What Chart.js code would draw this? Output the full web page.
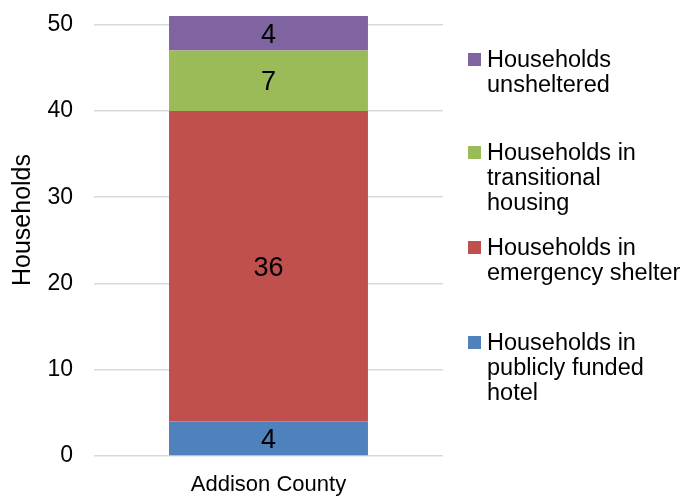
<!DOCTYPE html>
<html>
<head>
<meta charset="utf-8">
<script src="https://cdn.jsdelivr.net/npm/chart.js@4/dist/chart.umd.min.js"></script>
<style>
  html, body { margin: 0; padding: 0; background: #fff; }
  #wrap { position: relative; width: 698px; height: 496px; }
  #chart { position: absolute; left: 0; top: 0; }
  .legend-item { position: absolute; left: 468px; font-family: 'Liberation Sans', Arial, sans-serif; font-size: 23.5px; line-height: 25px; color: #000; }
  .legend-item .box { position: absolute; left: 0; top: 6px; width: 13px; height: 13px; }
  .legend-item .text { position: absolute; left: 19px; top: 0; white-space: nowrap; }
</style>
</head>
<body>
<div id="wrap">
  <canvas id="chart" width="698" height="496"></canvas>
</div>
<script>
// Households by shelter type, stacked bottom to top
const categories = ['Addison County'];
const hotel = [4];
const emergency = [36];
const transitional = [7];
const unsheltered = [4];
const yTicks = [0, 10, 20, 30, 40, 50];

const seriesNames = [
    ['Households in', 'publicly funded', 'hotel'],
    ['Households in', 'emergency shelter'],
    ['Households in', 'transitional', 'housing'],
    ['Households', 'unsheltered']
];
const seriesColors = ['#4F81BD', '#C0504D', '#9BBB59', '#8064A2'];
const seriesData = [hotel, emergency, transitional, unsheltered];

const font = "'Liberation Sans', Arial, sans-serif";

// value labels centred in each segment
const segmentLabels = {
    id: 'segmentLabels',
    afterDatasetsDraw(chart) {
        const ctx = chart.ctx;
        ctx.save();
        ctx.font = '27px ' + font;
        ctx.fillStyle = '#000';
        ctx.textAlign = 'center';
        ctx.textBaseline = 'middle';
        chart.data.datasets.forEach((ds, i) => {
            chart.getDatasetMeta(i).data.forEach((bar, j) => {
                const { x, y, base } = bar.getProps(['x', 'y', 'base'], true);
                ctx.fillText(String(ds.data[j]), x, (y + base) / 2 + 2);
            });
        });
        ctx.restore();
    }
};

// rotated y axis title, sitting a little above the middle of the plot
const axisTitle = {
    id: 'axisTitle',
    afterDraw(chart) {
        const ctx = chart.ctx;
        const { top, bottom } = chart.chartArea;
        ctx.save();
        ctx.translate(23, (top + bottom) / 2 - 16);
        ctx.rotate(-Math.PI / 2);
        ctx.font = '25px ' + font;
        ctx.fillStyle = '#000';
        ctx.textAlign = 'center';
        ctx.textBaseline = 'middle';
        ctx.fillText('Households', 0, 0);
        ctx.restore();
    }
};

new Chart(document.getElementById('chart'), {
    type: 'bar',
    data: {
        labels: categories,
        datasets: seriesData.map((d, i) => ({
            label: seriesNames[i].join(' '),
            data: d,
            backgroundColor: seriesColors[i],
            borderWidth: 0,
            barPercentage: 1,
            categoryPercentage: 0.57
        }))
    },
    options: {
        responsive: false,
        animation: false,
        layout: { padding: { top: 16, right: 255, bottom: 0, left: 0 } },
        plugins: {
            legend: { display: false },
            tooltip: { enabled: false }
        },
        scales: {
            x: {
                stacked: true,
                grid: { display: false, drawTicks: false },
                border: { display: false },
                ticks: { color: '#000', font: { family: font, size: 22 }, padding: 16 },
                afterFit: s => { s.height = 40; }
            },
            y: {
                stacked: true,
                min: 0,
                max: 51,
                afterBuildTicks: s => { s.ticks = yTicks.map(v => ({ value: v })); },
                grid: { color: '#D9D9D9', lineWidth: 1.5, drawTicks: false },
                border: { display: false },
                ticks: { color: '#000', font: { family: font, size: 23 }, padding: 21 },
                afterFit: s => {
                    s.width = 94;
                    s.paddingTop = 0;
                    s.paddingBottom = 0;
                }
            }
        }
    },
    plugins: [segmentLabels, axisTitle]
});

// legend, top entry first
const wrap = document.getElementById('wrap');
const legendTops = [330, 235, 140, 47];
seriesNames.forEach((lines, i) => {
    const item = document.createElement('div');
    item.className = 'legend-item';
    item.style.top = legendTops[i] + 'px';
    const box = document.createElement('div');
    box.className = 'box';
    box.style.background = seriesColors[i];
    const text = document.createElement('div');
    text.className = 'text';
    text.innerHTML = lines.join('<br>');
    item.appendChild(box);
    item.appendChild(text);
    wrap.appendChild(item);
});
</script>
</body>
</html>
